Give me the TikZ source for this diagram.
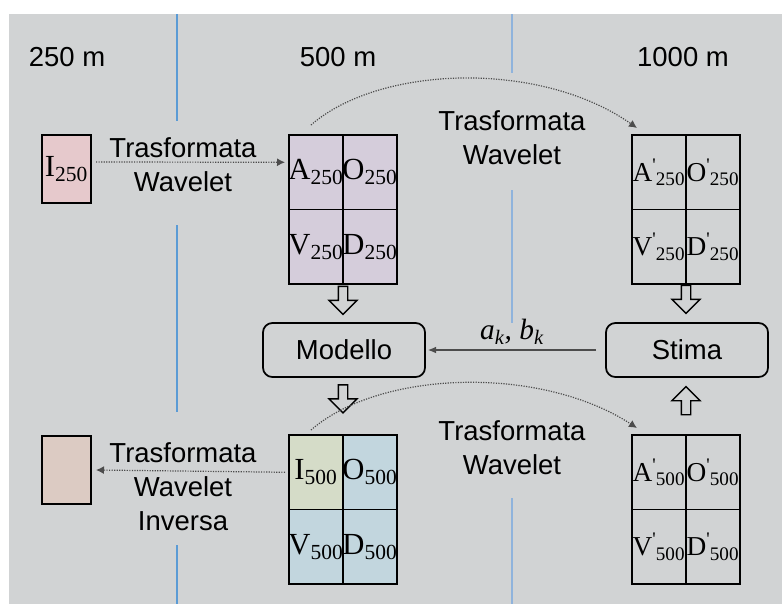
\documentclass[tikz,border=0pt]{standalone}
\usepackage{fontspec}
\setmainfont{Liberation Sans}
\newfontfamily\cellfont{Liberation Serif}
\usepackage{tikz}
\usetikzlibrary{arrows.meta,positioning,calc,shapes.arrows}
\definecolor{cBg}{HTML}{D1D3D4}
\definecolor{cSepA}{HTML}{5B9BD5}
\definecolor{cSepB}{HTML}{8FB3DC}
\definecolor{cPink}{HTML}{E6C9CC}
\definecolor{cLav}{HTML}{D5CDDB}
\definecolor{cGreen}{HTML}{D5DCC8}
\definecolor{cBlue}{HTML}{C2D6DE}
\definecolor{cSand}{HTML}{DCCBC3}

\begin{document}
\begin{tikzpicture}[x=0.75pt,y=-0.75pt,every node/.style={outer sep=0pt},
  lbl/.style={font=\fontsize{20.6}{25.5}\selectfont,align=center},
  cell/.style={draw,line width=1.3pt,minimum width=40.5pt,minimum height=55.9pt,
               inner sep=0pt,anchor=north west},
  img/.style={draw,line width=1.3pt,minimum width=36.75pt,minimum height=51pt,
              inner sep=0pt,anchor=north west,font=\cellfont\fontsize{23}{26}\selectfont},
  proc/.style={draw,line width=1.3pt,rounded corners=7pt,minimum width=121.5pt,
               minimum height=40.5pt,lbl},
  hollow/.style={single arrow,draw,line width=1pt,fill=cBg,minimum height=21pt,
                 inner sep=3pt,single arrow head extend=7pt},
  wt/.style={densely dotted,line width=0.9pt,draw=black!70,-{Latex[length=6pt,width=6pt]}},
  coef/.style={draw=black!70,line width=0.8pt,-{Latex[length=6pt,width=5pt]}},
  sep/.style={line width=2pt}]
\useasboundingbox (0,0) rectangle (782,604);
\fill[white] (0,0) rectangle (782,604);
\fill[cBg] (9,14) rectangle (782,604);

% resolution columns
\draw[sep,cSepA] (177,14) -- (177,121) (177,225) -- (177,412) (177,545) -- (177,604);
\draw[sep,cSepB] (512,14) -- (512,73) (512,190) -- (512,323) (512,498) -- (512,604);
\node[lbl] (r250) at (67,57) {250 m};
\node[lbl] (r500) at (338,57) {500 m};
\node[lbl] (r1000) at (683,57) {1000 m};

% input and output images
\node[img,fill=cPink] (in) at (42,135) {I\textsubscript{250}};
\node[img,fill=cSand] (out) at (42,436) {};

% grid/x/y/first letter/fill first/fill rest/prime/scale/font size
\foreach \g/\x/\y/\first/\fa/\fb/\p/\s/\fs in {%
  top/289/135/A/cLav/cLav/{}/250/23,
  topp/632/135/A/none/none/'/250/20.5,
  bot/289/435/I/cGreen/cBlue/{}/500/23,
  botp/632/435/A/none/none/'/500/20.5}
{
  \foreach \i/\l in {0/\first,1/O,2/V,3/D}{
    \pgfmathtruncatemacro\col{mod(\i,2)}
    \pgfmathtruncatemacro\row{\i/2}
    \ifnum\i=0 \def\c{\fa}\else \def\c{\fb}\fi
    \node[cell,fill=\c,font=\cellfont\fontsize{\fs}{26}\selectfont] (\g-\i)
      at ({\x+\col*54},{\y+\row*74.5})
      {\makebox[38pt][c]{\l\textsuperscript{\p}\kern-0.5pt\textsubscript{\s}}};
  }
}

% processing blocks
\node[proc] (mod) at (344,350) {Modello};
\node[proc] (est) at (687,350) {Stima};
\node[hollow,rotate=-90] (h1) at (343,298) {};
\node[hollow,rotate=-90] (h2) at (343,396.5) {};
\node[hollow,rotate=-90] (h3) at (686,297) {};
\node[hollow,rotate=90] (h4) at (686,403) {};

% wavelet transforms
\draw[wt] ($(in.east)+(5,-7)$) -- ($(top-0.west)+(-4,-10)$);
\node[lbl] (t1) at (183,165) {Trasformata\\Wavelet};
\coordinate (c1) at (311,125);
\draw[wt] (c1) .. controls (380,65) and (540,60) .. ($(topp-0.north west)+(5,-7)$);
\node[lbl] (t2) at (512,138) {Trasformata\\Wavelet};
\coordinate (c2) at (311,430);
\draw[wt] (c2) .. controls (380,370) and (540,365) .. ($(botp-0.north west)+(5,-7)$);
\node[lbl] (t3) at (512,448) {Trasformata\\Wavelet};
\draw[wt] ($(bot-0.west)+(-4,0)$) -- ($(out.east)+(5,0)$);
\node[lbl] (t4) at (183,487) {Trasformata\\Wavelet\\Inversa};

% coefficients
\draw[coef] ($(est.west)+(-10,0)$) -- node[above=1pt,font=\cellfont\itshape\fontsize{22}{24}\selectfont]
  {a\textsubscript{k}, b\textsubscript{k}} ($(mod.east)+(3,0)$);
\end{tikzpicture}
\end{document}
